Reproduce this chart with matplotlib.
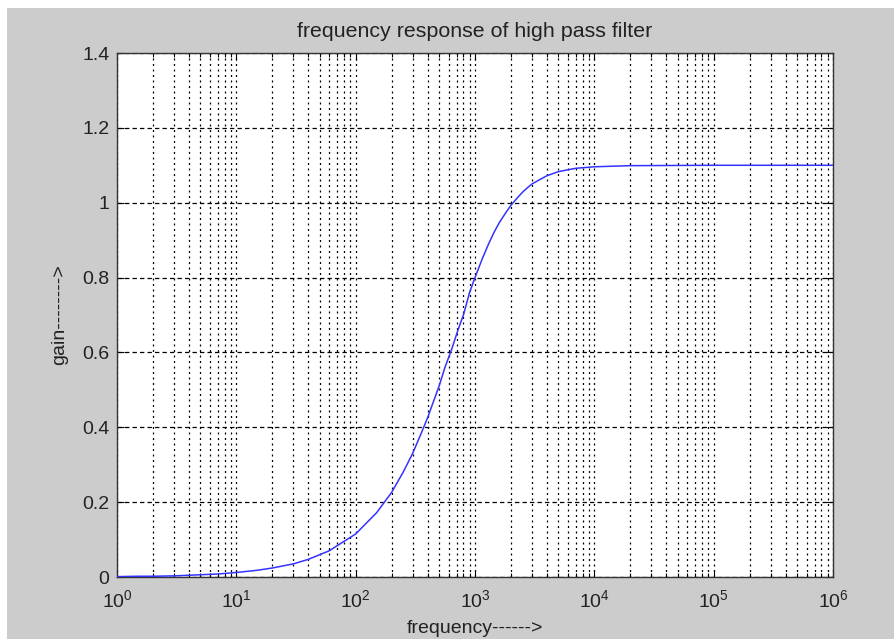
import matplotlib
matplotlib.use("Agg")
import matplotlib.pyplot as plt
from matplotlib.patches import Rectangle
from matplotlib.ticker import FixedLocator, FixedFormatter, LogLocator, NullFormatter

plt.rcParams['font.family'] = ['Liberation Sans', 'DejaVu Sans']
plt.rcParams['mathtext.fontset'] = 'custom'
plt.rcParams['mathtext.rm'] = 'Liberation Sans'
plt.rcParams['mathtext.it'] = 'Liberation Sans'
plt.rcParams['mathtext.bf'] = 'Liberation Sans'

# ---- data ----
freq = [1, 1.5, 2, 3, 5, 7, 10, 15, 20, 30, 40, 60, 100, 150, 200, 250, 300, 350, 400,
        450, 500, 560, 640, 720, 800, 900, 1000, 1150, 1300, 1450, 1600, 1800, 2000,
        2250, 2500, 2750, 3000, 3500, 4000, 5000, 7000, 10000, 20000, 100000, 1000000]
gain = [0.001, 0.002, 0.002, 0.003, 0.006, 0.008, 0.012, 0.018, 0.024, 0.035, 0.047,
        0.07, 0.115, 0.172, 0.226, 0.28, 0.33, 0.38, 0.425, 0.47, 0.51, 0.56, 0.61,
        0.66, 0.70, 0.76, 0.80, 0.85, 0.89, 0.922, 0.947, 0.972, 0.993, 1.012, 1.028,
        1.04, 1.05, 1.062, 1.072, 1.083, 1.092, 1.096, 1.099, 1.1, 1.1]

yticks = [0, 0.2, 0.4, 0.6, 0.8, 1.0, 1.2, 1.4]
ytick_labels = ['0', '0.2', '0.4', '0.6', '0.8', '1', '1.2', '1.4']
xticks = [1, 10, 100, 1000, 10000, 100000, 1000000]
xtick_labels = ['$10^{0}$', '$10^{1}$', '$10^{2}$', '$10^{3}$', '$10^{4}$', '$10^{5}$', '$10^{6}$']

title = 'frequency response of high pass filter'
xlabel = 'frequency------>'
ylabel = 'gain-------->'

W, H = 894, 639
fig = plt.figure(figsize=(W / 100, H / 100), dpi=100, facecolor='white')
fig.patches.append(Rectangle((7 / W, 0), 1, (H - 8) / H, transform=fig.transFigure,
                             facecolor='#cccccc', edgecolor='none', zorder=-10))

ax = fig.add_axes([117 / W, 1 - 577 / H, (833 - 117) / W, (577 - 53) / H])
ax.set_facecolor('white')

ax.plot(freq, gain, color='#3333ff', lw=1.1, zorder=3)
ax.set_xscale('log')
ax.set_xlim(1, 1e6)
ax.set_ylim(0, 1.4)

ax.xaxis.set_major_locator(FixedLocator(xticks))
ax.xaxis.set_major_formatter(FixedFormatter(xtick_labels))
ax.xaxis.set_minor_locator(LogLocator(base=10, subs=range(2, 10), numticks=100))
ax.xaxis.set_minor_formatter(NullFormatter())
ax.yaxis.set_major_locator(FixedLocator(yticks))
ax.yaxis.set_major_formatter(FixedFormatter(ytick_labels))

ax.grid(True, which='major', axis='y', color='black', lw=0.9, linestyle=(0, (3.5, 2.5)))
ax.grid(True, which='both', axis='x', color='black', lw=0.9, linestyle=(0, (1.6, 2.8)))
ax.set_axisbelow(True)

ax.tick_params(which='both', direction='in', top=True, right=True, labelsize=14,
               colors='black', labelcolor='#222222')
ax.tick_params(which='major', length=5, width=0.8)
ax.tick_params(which='minor', length=3, width=0.8)
ax.tick_params(axis='x', pad=9)
ax.tick_params(axis='y', pad=5.5)

for s in ax.spines.values():
    s.set_color('#333333')
    s.set_linewidth(1.0)

ax.set_title(title, fontsize=15.4, color='#222222', pad=11.5)
ax.set_xlabel(xlabel, fontsize=14, color='#222222', labelpad=6.5)
ax.set_ylabel(ylabel, fontsize=14, color='#222222', labelpad=10)

fig.savefig('out.png', dpi=100, facecolor=fig.get_facecolor())
